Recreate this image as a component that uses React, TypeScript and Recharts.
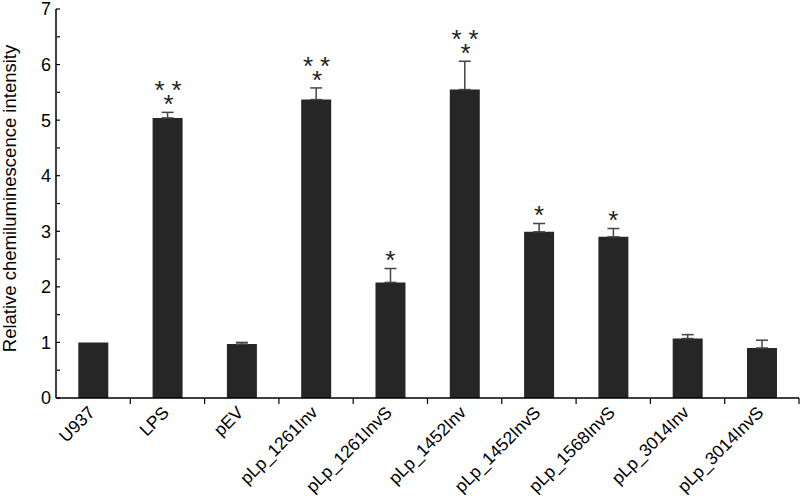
import { Bar, ComposedChart, ErrorBar, Scatter, XAxis, YAxis } from "recharts";

// Relative chemiluminescence per construct, mean + upper SD, with significance stars.

const categories = [
  "U937",
  "LPS",
  "pEV",
  "pLp_1261Inv",
  "pLp_1261InvS",
  "pLp_1452Inv",
  "pLp_1452InvS",
  "pLp_1568InvS",
  "pLp_3014Inv",
  "pLp_3014InvS",
];
const means = [1.0, 5.04, 0.97, 5.37, 2.08, 5.55, 2.99, 2.9, 1.07, 0.9];
// U937 is the reference sample, drawn without an error bar
const errors = [null, 0.1, 0.03, 0.21, 0.25, 0.51, 0.15, 0.15, 0.07, 0.14];
// 0 = none, 1 = single star, 3 = two over one
const stars = [0, 3, 0, 3, 1, 3, 1, 1, 0, 0];
const yTicks = [0, 0.5, 1, 1.5, 2, 2.5, 3, 3.5, 4, 4.5, 5, 5.5, 6, 6.5, 7];

const W = 800;
const H = 496;
const Y_AXIS_W = 56;
const RIGHT = 1;
const BAND = (W - Y_AXIS_W - RIGHT) / categories.length;
const FONT = "'Liberation Sans', Arial, sans-serif";
const BAR = "#262626";

const rows = categories.map((name, i) => ({
  name,
  value: means[i],
  err: errors[i] == null ? null : [0, errors[i]],
  top: means[i] + (errors[i] ?? 0),
  stars: stars[i],
}));

function YTick({ x, y, payload }: any) {
  const major = Number.isInteger(payload.value);
  return (
    <g>
      <line x1={x + (major ? 2 : 3)} x2={x + 6} y1={y} y2={y} stroke="#000" strokeWidth={1.2} />
      {major && (
        <text x={x - 3} y={y} dy="0.36em" textAnchor="end" fontSize={18} fontFamily={FONT} fill="#000">
          {payload.value}
        </text>
      )}
    </g>
  );
}

function XTick({ x, y, payload }: any) {
  return (
    <g>
      <line x1={x + BAND / 2} x2={x + BAND / 2} y1={y - 8} y2={y - 2} stroke="#000" strokeWidth={1.2} />
      <text
        transform={`translate(${x - 6},${y - 1}) rotate(-45)`}
        textAnchor="end"
        dy="0.7em"
        fontSize={17.5}
        fontFamily={FONT}
        fill="#000"
      >
        {payload.value}
      </text>
    </g>
  );
}

function StarShape({ cx, cy, payload }: any) {
  const n = payload.stars;
  if (!n) return <g />;
  const star = (sx: number, sy: number, k: string) => (
    <text key={k} x={sx} y={sy + 15} textAnchor="middle" fontSize={26} fontFamily={FONT} fill="#222">
      *
    </text>
  );
  if (n === 1) return <g>{star(cx, cy - 15, "a")}</g>;
  return (
    <g>
      {star(cx - 8, cy - 28, "a")}
      {star(cx + 9, cy - 28, "b")}
      {star(cx + 1, cy - 14, "c")}
    </g>
  );
}

function YLabel({ viewBox }: any) {
  const cx = 10;
  const cy = viewBox.y + viewBox.height / 2 - 5;
  return (
    <text
      transform={`translate(${cx},${cy}) rotate(-90)`}
      textAnchor="middle"
      dy="0.35em"
      fontSize={18.5}
      fontFamily={FONT}
      fill="#000"
    >
      Relative chemiluminescence intensity
    </text>
  );
}

export default function App() {
  return (
    <div style={{ position: "fixed", left: 0, top: 0, width: W, height: H, background: "#fff" }}>
      <ComposedChart
        width={W}
        height={H}
        data={rows}
        margin={{ top: 9, right: RIGHT, bottom: 0, left: 0 }}
        barCategoryGap="30%"
      >
        <XAxis
          dataKey="name"
          height={98}
          interval={0}
          tickLine={false}
          axisLine={{ stroke: "#000", strokeWidth: 1.5 }}
          tick={<XTick />}
        />
        <YAxis
          width={Y_AXIS_W}
          domain={[0, 7]}
          ticks={yTicks}
          interval={0}
          tickLine={false}
          tickSize={0}
          axisLine={{ stroke: "#000", strokeWidth: 1.5 }}
          tick={<YTick />}
          label={<YLabel />}
        />
        <Bar dataKey="value" fill={BAR} isAnimationActive={false}>
          <ErrorBar dataKey="err" width={6} stroke="#444" strokeWidth={1.5} direction="y" />
        </Bar>
        <Scatter dataKey="top" shape={<StarShape />} isAnimationActive={false} />
      </ComposedChart>
    </div>
  );
}
